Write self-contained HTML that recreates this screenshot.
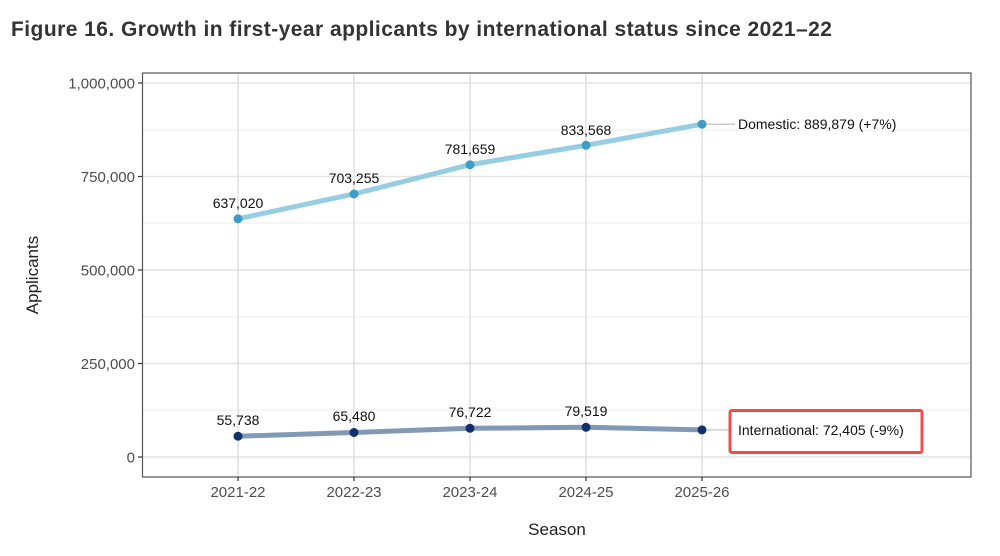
<!DOCTYPE html>
<html><head><meta charset="utf-8"><style>
body{margin:0;background:#fff;width:1000px;height:551px;overflow:hidden}
svg{font-family:"Liberation Sans",sans-serif}
</style></head><body>
<svg width="1000" height="551" xmlns="http://www.w3.org/2000/svg">
<text x="11" y="36" font-size="21" font-weight="bold" fill="#333" letter-spacing="0.45">Figure 16. Growth in first-year applicants by international status since 2021–22</text>
<g stroke="#ebebeb" stroke-width="1">
<line x1="143" x2="971" y1="130" y2="130"/><line x1="143" x2="971" y1="223" y2="223"/><line x1="143" x2="971" y1="317" y2="317"/><line x1="143" x2="971" y1="410" y2="410"/>
</g>
<g stroke="#e3e3e3" stroke-width="1.6">
<line x1="143" x2="971" y1="83" y2="83"/><line x1="143" x2="971" y1="176.5" y2="176.5"/><line x1="143" x2="971" y1="270" y2="270"/><line x1="143" x2="971" y1="363.5" y2="363.5"/><line x1="143" x2="971" y1="457" y2="457"/>
<line x1="238" x2="238" y1="73" y2="477"/><line x1="354" x2="354" y1="73" y2="477"/><line x1="470" x2="470" y1="73" y2="477"/><line x1="586" x2="586" y1="73" y2="477"/><line x1="702" x2="702" y1="73" y2="477"/>
</g>
<rect x="142.5" y="73" width="828.5" height="404" fill="none" stroke="#555" stroke-width="1.2"/>
<g stroke="#333" stroke-width="1.2">
<line x1="138" x2="142" y1="83" y2="83"/><line x1="138" x2="142" y1="176.5" y2="176.5"/><line x1="138" x2="142" y1="270" y2="270"/><line x1="138" x2="142" y1="363.5" y2="363.5"/><line x1="138" x2="142" y1="457" y2="457"/>
<line x1="238" x2="238" y1="477" y2="481"/><line x1="354" x2="354" y1="477" y2="481"/><line x1="470" x2="470" y1="477" y2="481"/><line x1="586" x2="586" y1="477" y2="481"/><line x1="702" x2="702" y1="477" y2="481"/>
</g>
<g font-size="15" fill="#4d4d4d" text-anchor="end">
<text x="135" y="88.5">1,000,000</text><text x="135" y="182">750,000</text><text x="135" y="275.5">500,000</text><text x="135" y="369">250,000</text><text x="135" y="462.5">0</text>
</g>
<g font-size="15" fill="#4d4d4d" text-anchor="middle">
<text x="238" y="497">2021-22</text><text x="354" y="497">2022-23</text><text x="470" y="497">2023-24</text><text x="586" y="497">2024-25</text><text x="702" y="497">2025-26</text>
</g>
<text x="557" y="535" font-size="17" fill="#222" text-anchor="middle">Season</text>
<text transform="translate(38,275) rotate(-90)" font-size="17" fill="#222" text-anchor="middle">Applicants</text>
<line x1="702" x2="735" y1="124.2" y2="124.2" stroke="#ccc" stroke-width="1.5"/>
<line x1="702" x2="731" y1="429.9" y2="429.9" stroke="#ccc" stroke-width="1.5"/>
<polyline points="238,218.8 354,194 470,164.7 586,145.3 702,124.2" fill="none" stroke="#95cde3" stroke-width="5" stroke-linecap="round"/>
<polyline points="238,436.2 354,432.5 470,428.3 586,427.3 702,429.9" fill="none" stroke="#8199b7" stroke-width="5" stroke-linecap="round"/>
<g fill="#3e9cc7"><circle cx="238" cy="218.8" r="4.5"/><circle cx="354" cy="194" r="4.5"/><circle cx="470" cy="164.7" r="4.5"/><circle cx="586" cy="145.3" r="4.5"/><circle cx="702" cy="124.2" r="4.5"/></g>
<g fill="#13306a"><circle cx="238" cy="436.2" r="4.5"/><circle cx="354" cy="432.5" r="4.5"/><circle cx="470" cy="428.3" r="4.5"/><circle cx="586" cy="427.3" r="4.5"/><circle cx="702" cy="429.9" r="4.5"/></g>
<g font-size="14" fill="#111" text-anchor="middle">
<text x="238" y="208">637,020</text><text x="354" y="183">703,255</text><text x="470" y="154">781,659</text><text x="586" y="135">833,568</text>
<text x="238" y="425">55,738</text><text x="354" y="421">65,480</text><text x="470" y="417">76,722</text><text x="586" y="416">79,519</text>
</g>
<text x="738" y="129" font-size="14" fill="#111">Domestic: 889,879 (+7%)</text>
<rect x="730" y="410.5" width="192" height="42" fill="none" stroke="#f24b4b" stroke-width="3" rx="2"/>
<text x="738" y="435" font-size="14" fill="#111">International: 72,405 (-9%)</text>
</svg>
</body></html>
